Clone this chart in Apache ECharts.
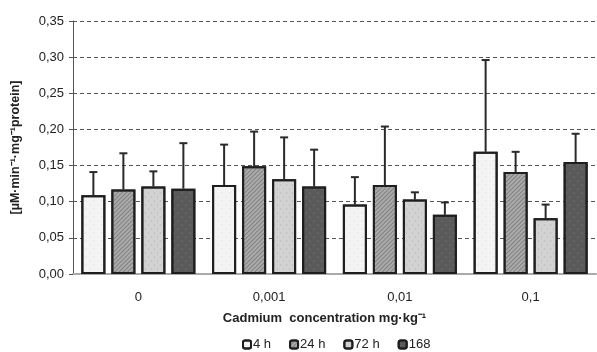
<!DOCTYPE html>
<html>
<head>
<meta charset="utf-8">
<script src="https://cdn.jsdelivr.net/npm/echarts@6/dist/echarts.min.js"></script>
<style>html,body{margin:0;padding:0;background:#fff}#c{width:597px;height:352px}</style>
</head>
<body>
<div id="c"></div>
<script>
var categories = ['0', '0,001', '0,01', '0,1'];
var seriesNames = ['4 h', '24 h', '72 h', '168'];
var mean4h = [0.109, 0.123, 0.096, 0.169];
var mean24h = [0.117, 0.149, 0.123, 0.141];
var mean72h = [0.121, 0.131, 0.103, 0.077];
var mean168 = [0.118, 0.121, 0.082, 0.155];
var sd4h = [0.032, 0.056, 0.038, 0.127];
var sd24h = [0.050, 0.048, 0.081, 0.028];
var sd72h = [0.021, 0.058, 0.010, 0.019];
var sd168 = [0.063, 0.051, 0.017, 0.039];

var means = [mean4h, mean24h, mean72h, mean168];
var sds = [sd4h, sd24h, sd72h, sd168];
var fills = ['#f4f4f4', '#ababab', '#d2d2d2', '#5a5a5a'];
var decals = [
  {symbol: 'circle', symbolSize: 0.5, dashArrayX: [[4, 4], [0, 4, 4, 0]], dashArrayY: [2, 2], color: '#cccccc'},
  {symbol: 'rect', dashArrayX: [1, 0], dashArrayY: [1, 2], rotation: -Math.PI / 4, color: '#808080'},
  {symbol: 'circle', symbolSize: 0.6, dashArrayX: [[3, 3], [0, 3, 3, 0]], dashArrayY: [2, 2], color: '#a8a8a8'},
  {symbol: 'circle', symbolSize: 0.6, dashArrayX: [[4, 4], [0, 4, 4, 0]], dashArrayY: [2, 2], color: '#828282'}
];
var BAR_W = 24, SPACING = 30;

var series = [];
for (var s = 0; s < 4; s++) {
  series.push({
    name: seriesNames[s], type: 'bar', data: means[s],
    barWidth: BAR_W, barGap: '25%',
    itemStyle: {color: fills[s], borderColor: '#1e1e1e', borderWidth: 2, decal: decals[s]},
    emphasis: {disabled: true}, z: 2
  });
}
var errData = [];
for (var s = 0; s < 4; s++) {
  for (var i = 0; i < categories.length; i++) {
    errData.push([i, means[s][i], means[s][i] + sds[s][i], s]);
  }
}
series.push({
  type: 'custom', name: 'err', z: 5, silent: true,
  data: errData,
  renderItem: function (params, api) {
    var c = api.value(0), m = api.value(1), t = api.value(2), s = api.value(3);
    var off = (s - 1.5) * SPACING;
    var p0 = api.coord([c, m]), p1 = api.coord([c, t]);
    var x = p0[0] + off;
    var st = {stroke: '#2a2a2a', lineWidth: 2};
    return {type: 'group', children: [
      {type: 'line', shape: {x1: x, y1: p0[1], x2: x, y2: p1[1]}, style: st},
      {type: 'line', shape: {x1: x - 4, y1: p1[1], x2: x + 4, y2: p1[1]}, style: st}
    ]};
  }
});

var chart = echarts.init(document.getElementById('c'));
chart.setOption({
  animation: false,
  textStyle: {fontFamily: 'Liberation Sans', color: '#222'},
  grid: {left: 73, right: 1, top: 21, bottom: 78},
  legend: {
    data: seriesNames, top: 333, left: 237, itemWidth: 8, itemHeight: 8, itemGap: 18,
    textStyle: {fontSize: 13, color: '#222', fontFamily: 'Liberation Sans', padding: [0, 0, 0, -3]}
  },
  xAxis: {
    type: 'category', data: categories,
    name: 'Cadmium  concentration mg·kg⁻¹', nameLocation: 'middle', nameGap: 38,
    nameTextStyle: {fontWeight: 'bold', fontSize: 13, color: '#222', padding: [0, 20, 0, 0]},
    axisLine: {lineStyle: {color: '#aaaaaa', width: 2}},
    axisTick: {show: false},
    axisLabel: {margin: 17, fontSize: 13, color: '#222'}
  },
  yAxis: {
    type: 'value', min: 0, max: 0.35, interval: 0.05,
    name: '[µM·min⁻¹·mg⁻¹protein]', nameLocation: 'middle', nameGap: 51, nameRotate: 90,
    nameTextStyle: {fontWeight: 'bold', fontSize: 12.5, color: '#222'},
    axisLine: {show: true, lineStyle: {color: '#555', width: 1}},
    axisTick: {show: true, length: 4, lineStyle: {color: '#555'}},
    axisLabel: {fontSize: 13, color: '#222', margin: 9,
      formatter: function (v) { return v.toFixed(2).replace('.', ','); }},
    splitLine: {lineStyle: {type: [4, 3], color: '#555', width: 1}}
  },
  series: series
});
</script>
</body>
</html>
